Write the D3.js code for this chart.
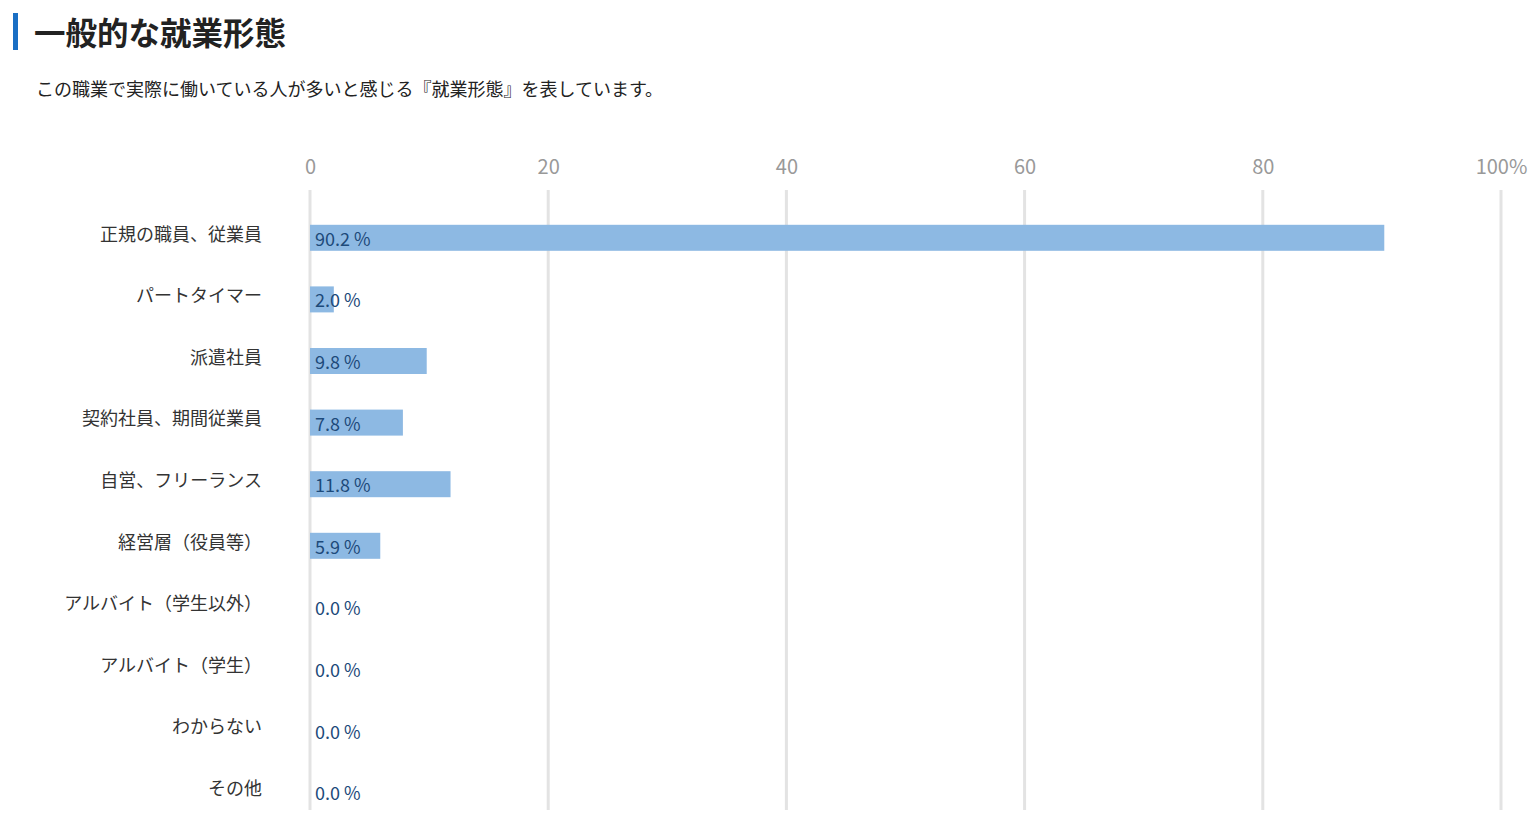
<!DOCTYPE html>
<html><head><meta charset="utf-8">
<script src="https://cdn.jsdelivr.net/npm/d3@7"></script>
<style>
html,body{margin:0;padding:0;background:#fff;}
svg{display:block;font-family:"Noto Sans CJK JP","Noto Sans",sans-serif;}
</style></head>
<body>
<svg id="chart" width="1535" height="820"></svg>
<script>
const title = "一般的な就業形態";
const subtitle = "この職業で実際に働いている人が多いと感じる『就業形態』を表しています。";
const categories = ["正規の職員、従業員","パートタイマー","派遣社員","契約社員、期間従業員","自営、フリーランス","経営層（役員等）","アルバイト（学生以外）","アルバイト（学生）","わからない","その他"];
const values = [90.2, 2.0, 9.8, 7.8, 11.8, 5.9, 0.0, 0.0, 0.0, 0.0];
const tickValues = [0, 20, 40, 60, 80, 100];
const tickLabels = ["0", "20", "40", "60", "80", "100%"];

const svg = d3.select("#chart");

// header
svg.append("rect").attr("x", 13).attr("y", 13).attr("width", 5).attr("height", 37).attr("fill", "#1a6fc4");
svg.append("text").attr("x", 34).attr("y", 45).attr("font-size", 31.5).attr("font-weight", 700)
  .attr("fill", "#222").text(title);
svg.append("text").attr("x", 36).attr("y", 96).attr("font-size", 18).attr("fill", "#222").text(subtitle);

const x = d3.scaleLinear().domain([0, 100]).range([310, 1501]);
const y = d3.scaleBand().domain(categories).range([207, 823]).paddingInner(0.58).paddingOuter(0.29);

// gridlines
svg.append("g").selectAll("line").data(tickValues).join("line")
  .attr("x1", d => x(d)).attr("x2", d => x(d))
  .attr("y1", 190).attr("y2", 810)
  .attr("stroke", "#e3e3e3").attr("stroke-width", 3);

// top axis labels
const axis = d3.axisTop(x).tickValues(tickValues).tickSize(0).tickFormat((d, i) => tickLabels[i]);
const ag = svg.append("g").attr("transform", "translate(0,177)").call(axis);
ag.select(".domain").remove();
ag.selectAll("text").attr("font-size", 20).attr("fill", "#999").attr("font-family", "'Noto Sans CJK JP','Noto Sans',sans-serif");

// bars
const bw = 26;
svg.append("g").selectAll("rect").data(values).join("rect")
  .attr("x", x(0))
  .attr("y", (d, i) => y(categories[i]) + y.bandwidth() / 2 - bw / 2)
  .attr("width", d => x(d) - x(0))
  .attr("height", bw)
  .attr("fill", "#8db9e3");

// value labels
svg.append("g").selectAll("text").data(values).join("text")
  .attr("x", x(0) + 5)
  .attr("y", (d, i) => y(categories[i]) + y.bandwidth() / 2 + 8)
  .attr("font-size", 18).attr("fill", "#1d4a7a")
  .text(d => d.toFixed(1) + " %");

// category labels
const ya = d3.axisLeft(y).tickSize(0).tickPadding(0);
const yg = svg.append("g").attr("transform", "translate(262,-3)").call(ya);
yg.select(".domain").remove();
yg.selectAll("text").attr("font-size", 18).attr("fill", "#333").attr("font-family", "'Noto Sans CJK JP','Noto Sans',sans-serif");
</script>
</body></html>
